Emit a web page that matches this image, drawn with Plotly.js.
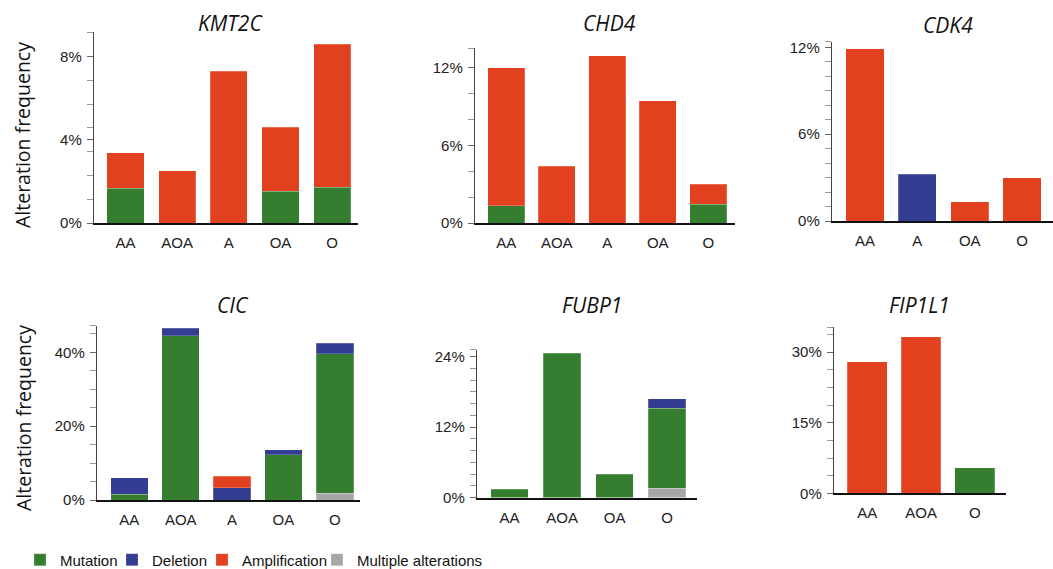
<!DOCTYPE html>
<html>
<head>
<meta charset="utf-8">
<script src="https://cdn.plot.ly/plotly-3.0.1.min.js"></script>
<style>html,body{margin:0;padding:0;background:#fff;}#chart{width:1053px;height:569px;}</style>
</head>
<body>
<div id="chart"></div>
<script>
// ---- data (percent of cases) ----
const kmt2cCats = ['AA', 'AOA', 'A', 'OA', 'O'];
const kmt2cMutation = [1.68, null, null, 1.52, 1.71];
const kmt2cAmplification = [1.70, 2.50, 7.30, 3.07, 6.88];

const chd4Cats = ['AA', 'AOA', 'A', 'OA', 'O'];
const chd4Mutation = [1.35, null, null, null, 1.45];
const chd4Amplification = [10.65, 4.40, 12.95, 9.48, 1.53];

const cdk4Cats = ['AA', 'A', 'OA', 'O'];
const cdk4Deletion = [null, 3.23, null, null];
const cdk4Amplification = [11.9, null, 1.32, 3.00];

const cicCats = ['AA', 'AOA', 'A', 'OA', 'O'];
const cicMultiple = [null, null, null, null, 1.8];
const cicMutation = [1.54, 44.5, null, 12.2, 37.8];
const cicDeletion = [4.5, 2.0, 3.34, 1.35, 2.8];
const cicAmplification = [null, null, 3.16, null, null];

const fubp1Cats = ['AA', 'AOA', 'OA', 'O'];
const fubp1Multiple = [null, null, null, 1.56];
const fubp1Mutation = [1.39, 24.6, 4.0, 13.7];
const fubp1Deletion = [null, null, null, 1.6];

const fip1l1Cats = ['AA', 'AOA', 'O'];
const fip1l1Mutation = [null, null, 5.45];
const fip1l1Amplification = [28.0, 33.3, null];

const geneNames = ['KMT2C', 'CHD4', 'CDK4', 'CIC', 'FUBP1', 'FIP1L1'];
const legendLabels = ['Mutation', 'Deletion', 'Amplification', 'Multiple alterations'];
const yTitle = 'Alteration frequency';

// ---- styling ----
const COLORS = {
  'Multiple alterations': '#a7a7a7',
  'Mutation': '#367e2f',
  'Deletion': '#333d91',
  'Amplification': '#e2411f'
};
const LEGEND_W = {'Mutation': 47, 'Deletion': 45, 'Amplification': 70, 'Multiple alterations': 140};
const W = 1053, H = 569;

const panels = [
  {cats: kmt2cCats, series: {'Mutation': kmt2cMutation, 'Amplification': kmt2cAmplification},
   xpx: [94, 358], ypx: [223, 32.3], xr: [-0.61, 4.5], yr: [0, 9.16], w: 0.72,
   ticks: [0, 4, 8], minor: [1.143, 2.286, 3.429, 4.571, 5.714, 6.857, 9.143]},
  {cats: chd4Cats, series: {'Mutation': chd4Mutation, 'Amplification': chd4Amplification},
   xpx: [475, 735], ypx: [223, 48.3], xr: [-0.62, 4.53], yr: [0, 13.52], w: 0.74,
   ticks: [0, 6, 12], minor: [2, 4, 8, 10, 13.5]},
  {cats: cdk4Cats, series: {'Deletion': cdk4Deletion, 'Amplification': cdk4Amplification},
   xpx: [832, 1053], ypx: [221, 41.7], xr: [-0.63, 3.59], yr: [0, 12.4], w: 0.73,
   ticks: [0, 6, 12], minor: [1, 2, 3, 4, 5, 7, 8, 9, 10, 11, 12.4]},
  {cats: cicCats, series: {'Multiple alterations': cicMultiple, 'Mutation': cicMutation, 'Deletion': cicDeletion, 'Amplification': cicAmplification},
   xpx: [97, 360], ypx: [500, 325.7], xr: [-0.63, 4.49], yr: [0, 47.2], w: 0.73,
   ticks: [0, 20, 40], minor: [5, 10, 15, 25, 30, 35, 45, 47.2]},
  {cats: fubp1Cats, series: {'Multiple alterations': fubp1Multiple, 'Mutation': fubp1Mutation, 'Deletion': fubp1Deletion},
   xpx: [477, 697], ypx: [497.5, 349.7], xr: [-0.62, 3.57], yr: [0, 25.2], w: 0.72,
   ticks: [0, 12, 24], minor: [2, 4, 6, 8, 10, 14, 16, 18, 20, 22, 25.2]},
  {cats: fip1l1Cats, series: {'Mutation': fip1l1Mutation, 'Amplification': fip1l1Amplification},
   xpx: [834, 1006], ypx: [493.3, 327.3], xr: [-0.62, 2.58], yr: [0, 35.3], w: 0.74,
   ticks: [0, 15, 30], minor: [3.75, 7.5, 11.25, 18.75, 22.5, 26.25, 33.75, 35.3]}
];

const titlePos = [[230, 23], [609, 23], [948, 25], [233, 305], [592, 305], [919, 305]];
const yTitlePos = [[23, 135], [23, 418]];

const stackOrder = ['Multiple alterations', 'Mutation', 'Deletion', 'Amplification'];
const traces = [];
const shown = {};
const layout = {
  width: W, height: H,
  margin: {l: 0, r: 0, t: 0, b: 0, autoexpand: false},
  paper_bgcolor: '#ffffff', plot_bgcolor: 'rgba(0,0,0,0)',
  barmode: 'stack',
  showlegend: true,
  legend: {
    orientation: 'h', xref: 'container', yref: 'container',
    x: 20 / W, xanchor: 'left', y: 1 - 560 / H, yanchor: 'middle',
    font: {family: '"Liberation Sans", Arial, sans-serif', size: 15, color: '#111'},
    traceorder: 'normal', bgcolor: 'rgba(0,0,0,0)'
  },
  annotations: [],
  font: {family: '"Liberation Sans", Arial, sans-serif', color: '#222'}
};

panels.forEach((p, i) => {
  const n = i + 1;
  const xa = n === 1 ? 'x' : 'x' + n;
  const ya = n === 1 ? 'y' : 'y' + n;
  stackOrder.forEach(name => {
    if (!(name in p.series)) return;
    traces.push({
      type: 'bar', name: name, x: p.cats, y: p.series[name],
      xaxis: xa, yaxis: ya, width: p.w,
      marker: {color: COLORS[name], line: {color: 'rgba(255,255,255,0.35)', width: 0.6}},
      legendgroup: name, showlegend: !shown[name],
      legendrank: legendLabels.indexOf(name) + 1,
      legendwidth: LEGEND_W[name],
      hoverinfo: 'skip'
    });
    shown[name] = true;
  });
  const xKey = n === 1 ? 'xaxis' : 'xaxis' + n;
  const yKey = n === 1 ? 'yaxis' : 'yaxis' + n;
  layout[xKey] = {
    domain: [p.xpx[0] / W, p.xpx[1] / W], anchor: ya,
    type: 'category', range: p.xr, fixedrange: true,
    showline: true, linecolor: '#111', linewidth: 2,
    ticks: '', ticklabelstandoff: 5, showgrid: false, zeroline: false,
    tickfont: {size: 15, color: '#222', family: '"Liberation Sans", Arial, sans-serif'}
  };
  layout[yKey] = {
    domain: [1 - p.ypx[0] / H, 1 - p.ypx[1] / H], anchor: xa,
    range: p.yr, fixedrange: true,
    showline: true, linecolor: '#444', linewidth: 1.2,
    ticks: 'outside', ticklen: 6, tickcolor: '#666', tickwidth: 1,
    tickmode: 'array', tickvals: p.ticks, ticktext: p.ticks.map(v => v + '%'),
    ticklabelstandoff: 2,
    showgrid: false, zeroline: false,
    tickfont: {size: 15, color: '#222', family: '"Liberation Sans", Arial, sans-serif'},
    minor: {ticks: 'outside', ticklen: 6, tickcolor: '#9a9a9a', tickwidth: 1, tickmode: 'array', tickvals: p.minor, showgrid: false}
  };
  layout.annotations.push({
    text: geneNames[i], xref: 'paper', yref: 'paper',
    x: titlePos[i][0] / W, y: 1 - titlePos[i][1] / H, xanchor: 'center', yanchor: 'middle',
    showarrow: false,
    font: {family: '"Open Sans", "DejaVu Sans", sans-serif', size: 21, style: 'italic', color: '#111'}
  });
});

yTitlePos.forEach(pos => {
  layout.annotations.push({
    text: yTitle, xref: 'paper', yref: 'paper',
    x: pos[0] / W, y: 1 - pos[1] / H, xanchor: 'center', yanchor: 'middle',
    textangle: -90, showarrow: false,
    font: {family: '"Open Sans", "DejaVu Sans", sans-serif', size: 19.5, color: '#111'}
  });
});

Plotly.newPlot('chart', traces, layout, {displayModeBar: false, staticPlot: true});
</script>
</body>
</html>
